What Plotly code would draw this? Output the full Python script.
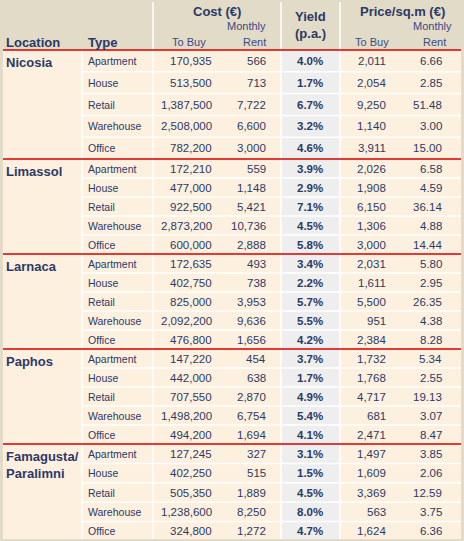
import plotly.graph_objects as go

locations = ["Nicosia", "Limassol", "Larnaca", "Paphos", "Famagusta/<br>Paralimni"]
types = ["Apartment", "House", "Retail", "Warehouse", "Office"]
cost_buy = [170935, 513500, 1387500, 2508000, 782200,
            172210, 477000, 922500, 2873200, 600000,
            172635, 402750, 825000, 2092200, 476800,
            147220, 442000, 707550, 1498200, 494200,
            127245, 402250, 505350, 1238600, 324800]
cost_rent = [566, 713, 7722, 6600, 3000,
             559, 1148, 5421, 10736, 2888,
             493, 738, 3953, 9636, 1656,
             454, 638, 2870, 6754, 1694,
             327, 515, 1889, 8250, 1272]
yield_pa = [4.0, 1.7, 6.7, 3.2, 4.6,
            3.9, 2.9, 7.1, 4.5, 5.8,
            3.4, 2.2, 5.7, 5.5, 4.2,
            3.7, 1.7, 4.9, 5.4, 4.1,
            3.1, 1.5, 4.5, 8.0, 4.7]
sqm_buy = [2011, 2054, 9250, 1140, 3911,
           2026, 1908, 6150, 1306, 3000,
           2031, 1611, 5500, 951, 2384,
           1732, 1768, 4717, 681, 2471,
           1497, 1609, 3369, 563, 1624]
sqm_rent = [6.66, 2.85, 51.48, 3.00, 15.00,
            6.58, 4.59, 36.14, 4.88, 14.44,
            5.80, 2.95, 26.35, 4.38, 8.28,
            5.34, 2.55, 19.13, 3.07, 8.47,
            3.85, 2.06, 12.59, 3.75, 6.36]

W, H = 464, 541
HDR = "#E2DBC7"; BODY = "#FDF0DF"; YCOL = "#EEEEEE"; TXT = "#2B3966"; RED = "#D40000"
group_tops = [50, 159, 254, 349, 444, 541]
font = "Liberation Sans, Arial, sans-serif"

shapes = []
ann = []
def rect(x0, y0, x1, y1, c):
    shapes.append(dict(type="rect", x0=x0, y0=y0, x1=x1, y1=y1, fillcolor=c, line=dict(width=0), layer="below"))
def line(x0, y0, x1, y1, c, w=1):
    shapes.append(dict(type="line", x0=x0, y0=y0, x1=x1, y1=y1, line=dict(color=c, width=w), layer="below"))
def text(x, y, s, anchor="right", size=11, bold=False, color=TXT):
    ann.append(dict(x=x, y=y, text=f"<b>{s}</b>" if bold else s, xanchor=anchor, yanchor="middle",
                    showarrow=False, font=dict(family=font, size=size, color=color)))

rect(0, 0, W, H, HDR)
rect(3, 50, 461, 539, BODY)
rect(281, 50, 340, 539, YCOL)
for xv in [153, 281, 340]:
    line(xv, 2, xv, 50, "white", 1.5)
for xv in [82, 153, 281, 340]:
    line(xv, 50, xv, 539, "white", 1.5)

# header
text(217, 11, "Cost (€)", "center", 13, True)
text(268, 26, "Monthly", size=11, color="#3B4A88")
text(208, 42, "To Buy", size=11, color="#3B4A88")
text(268, 42, "Rent", size=11, color="#3B4A88")
text(310, 16, "Yield", "center", 13, True)
text(310, 33, "(p.a.)", "center", 13, True)
text(402, 11, "Price/sq.m (€)", "center", 13, True)
text(454, 26, "Monthly", size=11, color="#3B4A88")
text(391, 42, "To Buy", size=11, color="#3B4A88")
text(448, 42, "Rent", size=11, color="#3B4A88")
text(4, 42, "Location", "left", 13, True)
text(86, 42, "Type", "left", 13, True)

for g, loc in enumerate(locations):
    top, bot = group_tops[g], group_tops[g + 1]
    h = (bot - top) / 5
    ann.append(dict(x=4, y=top + 3, text=f"<b>{loc}</b>", xanchor="left", yanchor="top", showarrow=False,
                    align="left", font=dict(family=font, size=13, color=TXT)))
    for r in range(5):
        i = g * 5 + r
        yc = top + h * r + h / 2
        if r > 0:
            line(82, top + h * r, 461, top + h * r, "white", 1.5)
        text(86, yc, types[r], "left", 10.5)
        text(214, yc, f"{cost_buy[i]:,}", size=11.5)
        text(268, yc, f"{cost_rent[i]:,}", size=11.5)
        text(310, yc, f"{yield_pa[i]:.1f}%", "center", 11.5, True)
        text(388, yc, f"{sqm_buy[i]:,}", size=11.5)
        text(444, yc, f"{sqm_rent[i]:.2f}", size=11.5)
    line(3, top, 461, top, RED, 1.5)

fig = go.Figure(go.Scatter(x=[0, W], y=[0, H], mode="markers", marker=dict(opacity=0), hoverinfo="skip"))
fig.update_layout(width=W, height=H, margin=dict(l=0, r=0, t=0, b=0), showlegend=False,
                  plot_bgcolor=HDR, paper_bgcolor=HDR, shapes=shapes, annotations=ann,
                  xaxis=dict(range=[0, W], visible=False, fixedrange=True),
                  yaxis=dict(range=[H, 0], visible=False, fixedrange=True))
fig.write_html("out.html", config={"displayModeBar": False},
               post_script="document.body.style.margin='0';document.body.style.overflow='hidden';")
